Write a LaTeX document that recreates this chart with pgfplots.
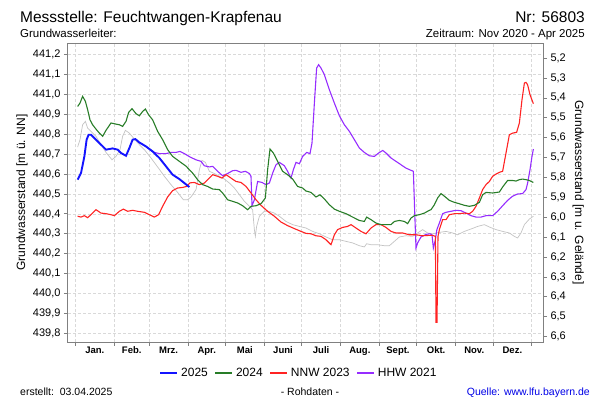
\documentclass[border=0pt]{standalone}
\usepackage{fontspec}
\setmainfont{Liberation Sans}
\usepackage{pgfplots}
\pgfplotsset{compat=1.18}

\definecolor{c25}{RGB}{20,20,255}
\definecolor{c24}{RGB}{40,125,40}
\definecolor{cnnw}{RGB}{255,35,35}
\definecolor{chhw}{RGB}{150,45,255}
\definecolor{cgray}{RGB}{195,195,195}
\definecolor{frame}{RGB}{128,128,128}
\definecolor{quelle}{RGB}{0,0,230}

\begin{document}
\begin{tikzpicture}
\path[use as bounding box] (0pt,0pt) rectangle (600pt,400pt);

% header and footer text
\node[anchor=base west, inner sep=0pt, font=\fontsize{15.5}{18}\selectfont] at (20pt,377.5pt) {Messstelle: Feuchtwangen-Krapfenau};
\node[anchor=base east, inner sep=0pt, font=\fontsize{15.5}{18}\selectfont] at (585pt,377.5pt) {Nr: 56803};
\node[anchor=base west, inner sep=0pt, font=\fontsize{11.5}{13}\selectfont] at (20pt,362.5pt) {Grundwasserleiter:};
\node[anchor=base east, inner sep=0pt, font=\fontsize{11.5}{13}\selectfont] at (585pt,362.5pt) {Zeitraum: Nov 2020 - Apr 2025};
\node[anchor=base west, inner sep=0pt, font=\fontsize{10.5}{12}\selectfont] at (20pt,5pt) {erstellt:\ \ 03.04.2025};
\node[anchor=base, inner sep=0pt, font=\fontsize{10.5}{12}\selectfont] at (310pt,5pt) {- Rohdaten -};
\node[anchor=base east, inner sep=0pt, text=quelle, font=\fontsize{10.5}{12}\selectfont] at (590pt,5pt) {Quelle: www.lfu.bayern.de};

\begin{axis}[
    at={(68pt,58pt)}, anchor=south west,
    scale only axis, width=475pt, height=299pt,
    xmin=-6, xmax=374,
    ymin=439.756, ymax=441.259,
    axis line style={draw=frame, line width=1pt},
    xtick={0,31,59,90,120,151,181,212,243,273,304,334,365},
    xticklabels={},
    extra x ticks={15.5,45,74.5,105,135.5,166,196.5,227.5,258,288.5,319,349.5},
    extra x tick labels={Jan.,Feb.,Mrz.,Apr.,Mai,Juni,Juli,Aug.,Sept.,Okt.,Nov.,Dez.},
    extra x tick style={major tick length=0pt, grid=none},
    x tick label style={font=\bfseries\fontsize{9.5}{10}\selectfont, yshift=-1pt},
    ytick={439.8,439.9,440,440.1,440.2,440.3,440.4,440.5,440.6,440.7,440.8,440.9,441,441.1,441.2},
    scaled y ticks=false,
    /pgf/number format/.cd, fixed, fixed zerofill, precision=1, use comma, 1000 sep={}, assume math mode=true,
    /pgfplots/.cd,
    y tick label style={font=\fontsize{11}{12}\selectfont},
    grid=major,
    major grid style={densely dashed, draw=black!15, line width=0.6pt},
    tick align=outside, major tick length=4pt,
    tick style={draw=frame, line width=0.8pt},
    xtick pos=bottom, ytick pos=left,
    ylabel={Grundwasserstand [m ü. NN]},
    ylabel style={at={(axis description cs:-0.097,0.5)}, anchor=center, font=\fontsize{12}{13}\selectfont},
    legend style={at={(axis description cs:0.486,-0.104)}, anchor=center, draw=none, fill=none,
        legend columns=4, font=\fontsize{12}{13}\selectfont,
        /tikz/every even column/.append style={column sep=5pt},
        /tikz/every odd column/.append style={column sep=1pt}},
    legend image code/.code={\draw[#1] (0pt,0pt) -- (17pt,0pt);},
]
\addlegendimage{draw=c25, line width=2pt}\addlegendentry{2025}
\addlegendimage{draw=c24, line width=1.2pt}\addlegendentry{2024}
\addlegendimage{draw=cnnw, line width=1.2pt}\addlegendentry{NNW 2023}
\addlegendimage{draw=chhw, line width=1.2pt}\addlegendentry{HHW 2021}

% grey comparison year (no legend entry)
\addplot[cgray, line width=0.7pt, forget plot] coordinates {
(1.7,440.736)(3.6,440.773)(5.7,440.848)(7.9,440.865)(9.7,440.831)(12.4,440.815)(16.4,440.790)
(20.4,440.748)(24.4,440.709)(29.2,440.672)(32.4,440.689)(35.6,440.723)(37.7,440.790)(39.9,440.820)
(43.1,440.806)(47.1,440.776)(51.1,440.748)(55.1,440.723)(60.4,440.681)(65.7,440.636)(71.1,440.589)
(76.4,440.547)(81.7,440.508)(86.3,440.471)(89.7,440.471)(92.4,440.485)(96.4,440.522)(99.1,440.622)
(101.2,440.669)(103.9,440.659)(107.1,440.614)(111.1,440.603)(115.1,440.589)(119.1,440.575)
(123.1,440.555)(127.1,440.530)(131.1,440.497)(135.1,440.463)(139.1,440.438)(141.7,440.421)
(143.1,440.321)(143.9,440.287)(144.9,440.337)(147.1,440.388)(151.1,440.413)(155.1,440.413)
(159.1,440.404)(163.1,440.388)(168.4,440.362)(173.7,440.346)(179.1,440.337)(184.4,440.329)
(189.7,440.312)(195.1,440.300)(200.4,440.284)(205.7,440.270)(211.1,440.270)(216.4,440.262)
(221.7,440.254)(227.1,440.240)(231.1,440.234)(232.9,440.250)(236.4,440.245)(241.7,440.245)
(247.1,440.240)(251.1,440.240)(255.1,440.262)(259.1,440.284)(264.4,440.290)(269.7,440.287)
(273.7,440.304)(277.7,440.321)(281.7,440.304)(285.7,440.300)(291.1,440.307)(296.4,440.312)
(301.7,440.304)(305.7,440.295)(311.1,440.312)(316.4,440.324)(321.7,440.337)(327.1,440.346)
(331.1,440.334)(336.4,440.321)(341.7,440.312)(347.1,440.304)(351.1,440.287)(353.7,440.279)
(356.4,440.304)(359.1,440.346)(363.1,440.374)(366.3,440.388)
};

% HHW 2021
\addplot[chhw, line width=1.1pt, forget plot] coordinates {
(56.4,440.739)(61.7,440.714)(63.1,440.709)(67.1,440.703)(72.4,440.703)(76.4,440.709)(80.4,440.709)
(83.6,440.714)(87.1,440.703)(91.6,440.686)(96.4,440.672)(100.4,440.664)(103.1,440.642)(107.1,440.636)
(109.7,440.639)(113.7,440.614)(117.7,440.592)(121.7,440.603)(125.7,440.617)(128.4,440.619)
(132.4,440.609)(135.9,440.614)(139.1,440.603)(140.4,440.589)(141.2,440.441)(143.1,440.471)
(145.7,440.563)(149.2,440.558)(152.4,440.547)(155.1,440.555)(157.7,440.605)(160.4,440.647)
(163.1,440.659)(167.1,440.642)(169.7,440.614)(172.4,440.580)(174.3,440.622)(176.4,440.659)
(179.1,440.652)(181.7,440.689)(184.9,440.709)(187.6,440.703)(189.2,440.756)(191.1,440.957)
(192.9,441.133)(194.5,441.150)(196.4,441.133)(199.1,441.100)(203.1,441.024)(207.1,440.957)
(211.1,440.893)(215.1,440.848)(219.1,440.815)(223.1,440.773)(227.1,440.731)(231.1,440.709)
(235.1,440.692)(239.1,440.689)(242.5,440.706)(245.8,440.719)(248.4,440.706)(252.4,440.681)
(256.4,440.664)(260.4,440.647)(264.4,440.630)(268.4,440.619)(270.3,440.614)(271.3,440.421)
(272.4,440.228)(273.7,440.254)(276.4,440.284)(280.4,440.297)(283.6,440.300)(285.2,440.295)
(286.3,440.228)(287.9,440.270)(289.1,440.321)(291.1,440.354)(293.7,440.401)(296.4,440.408)
(300.4,440.413)(304.4,440.418)(308.4,440.416)(312.4,440.404)(316.4,440.391)(320.4,440.384)
(324.4,440.384)(328.4,440.391)(333.7,440.391)(337.7,440.413)(341.7,440.441)(345.7,440.468)
(349.7,440.489)(353.7,440.500)(357.7,440.502)(360.4,440.522)(361.7,440.555)(363.6,440.622)
(365.2,440.689)(366.3,440.726)
};

% NNW 2023
\addplot[cnnw, line width=1.1pt, forget plot] coordinates {
(1.7,440.388)(4.4,440.384)(7.1,440.391)(9.7,440.381)(12.4,440.396)(16.4,440.421)(20.4,440.404)
(24.4,440.401)(28.4,440.396)(31.1,440.391)(35.1,440.413)(38.3,440.424)(41.7,440.413)(45.7,440.418)
(49.7,440.413)(55.1,440.408)(59.1,440.396)(63.1,440.384)(66.5,440.396)(69.7,440.438)(73.7,440.485)
(77.7,440.517)(81.7,440.530)(85.7,440.533)(88.9,440.538)(91.6,440.556)(95.1,440.558)(99.1,440.547)
(103.1,440.555)(105.7,440.572)(109.7,440.597)(113.7,440.589)(117.2,440.580)(120.4,440.597)
(124.4,440.580)(128.4,440.563)(132.4,440.558)(136.4,440.538)(140.4,440.505)(144.4,440.471)
(148.4,440.443)(153.7,440.413)(159.1,440.388)(164.4,440.359)(169.7,440.341)(175.1,440.326)
(180.4,440.312)(184.4,440.302)(188.4,440.300)(192.4,440.290)(196.4,440.287)(200.4,440.270)
(204.4,440.245)(207.1,440.295)(209.7,440.321)(213.7,440.332)(217.7,440.337)(220.4,440.346)
(224.4,440.329)(228.4,440.312)(232.4,440.300)(236.4,440.329)(240.4,440.346)(244.4,440.346)
(248.4,440.332)(252.4,440.312)(256.4,440.304)(261.7,440.304)(267.1,440.295)(272.4,440.295)
(277.7,440.290)(283.1,440.292)(285.7,440.292)(287.9,440.287)(288.4,439.855)(289.2,439.855)
(290.0,440.287)(291.1,440.321)(293.7,440.371)(296.4,440.371)(299.1,440.396)(303.1,440.401)
(307.1,440.401)(311.1,440.404)(315.1,440.401)(317.7,440.413)(320.4,440.438)(323.1,440.480)
(325.7,440.522)(328.4,440.547)(331.1,440.563)(333.7,440.589)(336.4,440.600)(339.1,440.609)
(341.7,440.614)(344.4,440.706)(347.1,440.798)(349.7,440.806)(352.9,440.810)(355.1,440.857)
(357.2,440.974)(359.1,441.058)(360.4,441.061)(361.7,441.049)(363.6,440.999)(366.3,440.954)
};

% 2024
\addplot[c24, line width=1.1pt, forget plot] coordinates {
(1.7,440.940)(3.6,440.957)(5.7,440.991)(7.9,440.966)(9.7,440.924)(11.6,440.873)(13.7,440.848)
(16.4,440.826)(19.1,440.806)(21.7,440.790)(24.4,440.820)(28.4,440.857)(31.1,440.853)(35.1,440.848)
(37.7,440.840)(40.4,440.865)(42.5,440.910)(45.2,440.929)(48.4,440.904)(51.1,440.893)(53.7,440.915)
(55.9,440.927)(58.5,440.898)(61.7,440.873)(65.7,440.815)(69.7,440.773)(73.7,440.723)(77.7,440.689)
(83.1,440.664)(88.4,440.640)(93.7,440.605)(97.7,440.572)(101.7,440.547)(105.7,440.538)
(109.7,440.525)(115.1,440.522)(117.7,440.505)(121.7,440.471)(125.7,440.463)(129.7,440.455)
(133.7,440.441)(137.7,440.421)(140.4,440.438)(144.4,440.441)(148.4,440.451)(151.9,440.480)
(153.7,440.622)(155.6,440.726)(158.3,440.706)(161.7,440.664)(165.7,440.614)(169.7,440.597)
(173.7,440.575)(177.7,440.538)(181.7,440.530)(184.4,440.515)(188.4,440.508)(192.4,440.485)
(195.6,440.496)(199.1,440.475)(203.1,440.446)(207.1,440.424)(211.1,440.413)(216.4,440.401)
(221.7,440.384)(227.1,440.367)(231.1,440.362)(232.9,440.384)(236.4,440.371)(240.4,440.354)
(244.4,440.346)(248.4,440.346)(252.4,440.346)(255.1,440.362)(259.1,440.367)(263.1,440.362)
(265.7,440.351)(268.4,440.379)(271.1,440.391)(275.1,440.396)(279.1,440.404)(283.1,440.418)
(284.4,440.421)(287.1,440.446)(289.7,440.480)(292.4,440.502)(295.1,440.489)(299.1,440.468)
(303.1,440.458)(307.1,440.451)(311.1,440.443)(315.1,440.438)(319.1,440.443)(323.1,440.458)
(325.7,440.496)(328.4,440.508)(333.7,440.505)(339.1,440.510)(341.7,440.535)(345.7,440.568)
(349.7,440.568)(352.4,440.565)(355.1,440.572)(357.7,440.575)(360.4,440.572)(363.1,440.568)
(366.3,440.558)
};

% 2025
\addplot[c25, line width=1.9pt, forget plot] coordinates {
(1.7,440.572)(4.4,440.605)(7.1,440.689)(8.9,440.773)(10.5,440.798)(12.4,440.798)(16.4,440.773)
(20.4,440.748)(24.4,440.723)(27.1,440.726)(29.7,440.729)(33.7,440.723)(36.4,440.706)(40.4,440.692)
(43.1,440.731)(45.7,440.773)(47.9,440.776)(51.1,440.759)(56.4,440.739)(61.7,440.714)(67.1,440.681)
(72.4,440.639)(77.7,440.597)(83.1,440.575)(87.1,440.555)(91.1,440.535)
};
\end{axis}

\begin{axis}[
    at={(68pt,58pt)}, anchor=south west,
    scale only axis, width=475pt, height=299pt,
    xmin=-6, xmax=374,
    y dir=reverse,
    ymin=5.124, ymax=6.627,
    axis x line=none,
    axis y line*=right,
    axis line style={draw=frame, line width=1pt, -},
    ytick={5.2,5.3,5.4,5.5,5.6,5.7,5.8,5.9,6,6.1,6.2,6.3,6.4,6.5,6.6},
    /pgf/number format/.cd, fixed, fixed zerofill, precision=1, use comma, assume math mode=true,
    /pgfplots/.cd,
    y tick label style={font=\fontsize{11}{12}\selectfont},
    tick align=outside, major tick length=4pt,
    tick style={draw=frame, line width=0.8pt},
    ylabel={Grundwasserstand [m u. Gelände]},
    ylabel style={at={(axis description cs:1.074,0.5)}, anchor=center, rotate=180, font=\fontsize{12}{13}\selectfont},
]
\addplot[draw=none, forget plot] coordinates {(0,6)};
\end{axis}
\end{tikzpicture}
\end{document}
